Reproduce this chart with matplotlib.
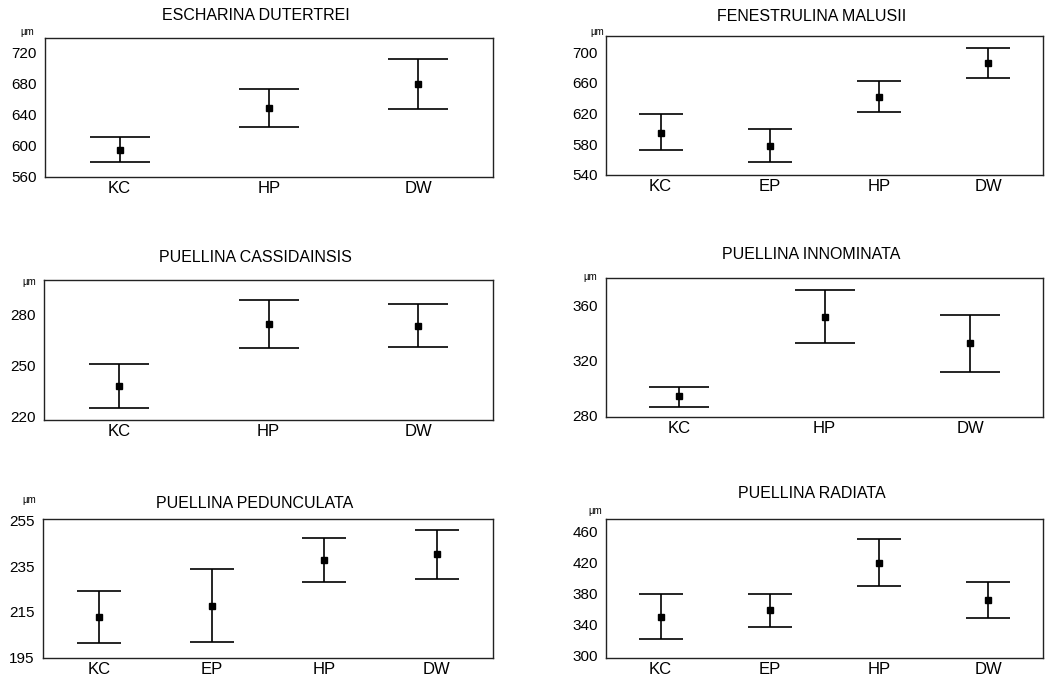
import numpy as np
import matplotlib
matplotlib.use("Agg")
import matplotlib.pyplot as plt

plt.rcParams['font.family'] = ['Liberation Sans', 'DejaVu Sans']

# datos: media, limite superior, limite inferior (um)
titles = ['ESCHARINA DUTERTREI', 'FENESTRULINA MALUSII',
          'PUELLINA CASSIDAINSIS', 'PUELLINA INNOMINATA',
          'PUELLINA PEDUNCULATA', 'PUELLINA RADIATA']

cats_esch = ['KC', 'HP', 'DW']
mean_esch = [595, 649, 680]
up_esch = [612, 673, 712]
lo_esch = [579, 625, 648]

cats_fene = ['KC', 'EP', 'HP', 'DW']
mean_fene = [595, 578, 642, 686]
up_fene = [619, 600, 663, 706]
lo_fene = [572, 557, 622, 666]

cats_cass = ['KC', 'HP', 'DW']
mean_cass = [238, 274, 273]
up_cass = [251, 288, 286]
lo_cass = [225, 260, 261]

cats_inno = ['KC', 'HP', 'DW']
mean_inno = [294, 352, 333]
up_inno = [301, 371, 353]
lo_inno = [286, 333, 312]

cats_pedu = ['KC', 'EP', 'HP', 'DW']
mean_pedu = [212.6, 217.4, 237.8, 240.5]
up_pedu = [224.3, 233.9, 247.5, 251]
lo_pedu = [201.2, 201.6, 228, 229.6]

cats_radi = ['KC', 'EP', 'HP', 'DW']
mean_radi = [350, 359, 419, 372]
up_radi = [379, 380, 450, 395]
lo_radi = [322, 337, 390, 349]

yticks_list = [[560, 600, 640, 680, 720],
               [540, 580, 620, 660, 700],
               [220, 250, 280],
               [280, 320, 360],
               [195, 215, 235, 255],
               [300, 340, 380, 420, 460]]
ylims = [(560, 739), (540, 721), (218, 300), (279, 380), (194.6, 255.8), (297, 476)]

panels = [(cats_esch, mean_esch, up_esch, lo_esch),
          (cats_fene, mean_fene, up_fene, lo_fene),
          (cats_cass, mean_cass, up_cass, lo_cass),
          (cats_inno, mean_inno, up_inno, lo_inno),
          (cats_pedu, mean_pedu, up_pedu, lo_pedu),
          (cats_radi, mean_radi, up_radi, lo_radi)]

W, H = 1046, 681
fig = plt.figure(figsize=(W / 100, H / 100), dpi=100)

# cajas de ejes en pixeles: izquierda, arriba, derecha, abajo
boxes = [(45, 38, 493, 177), (606, 36, 1043, 175),
         (44, 280, 493, 420), (606, 278, 1043, 417),
         (43, 519, 493, 658), (606, 519, 1043, 658)]
# posicion del rotulo "µm" (pixeles)
um_pos = [(20, 32), (590, 32), (22, 282), (583, 277), (22, 500), (588, 511)]
# separacion del titulo sobre la caja
title_pad = [13, 11, 13, 14, 8, 15]

for i, (cats, mean, up, lo) in enumerate(panels):
    l, t, r, b = boxes[i]
    ax = fig.add_axes([l / W, 1 - b / H, (r - l) / W, (b - t) / H])
    x = np.arange(len(cats))
    mean = np.array(mean)
    err = [mean - np.array(lo), np.array(up) - mean]
    cap = 21.5 if len(cats) == 3 else 16
    ax.errorbar(x, mean, yerr=err, fmt='s', color='black', ms=5,
                elinewidth=1.2, capsize=cap, capthick=1.2)
    ax.set_xlim(-0.5, len(cats) - 0.5)
    ax.set_ylim(*ylims[i])
    ax.set_xticks(x)
    ax.set_xticklabels(cats, fontsize=12)
    ax.set_yticks(yticks_list[i])
    ax.tick_params(axis='y', length=0, pad=6, labelsize=11)
    ax.tick_params(axis='x', length=0, pad=3)
    for s in ax.spines.values():
        s.set_linewidth(1.0)
        s.set_color('#222222')
    ax.set_title(titles[i], fontsize=11.5, x=0.47, pad=title_pad[i])
    fig.text(um_pos[i][0] / W, 1 - um_pos[i][1] / H, 'µm', fontsize=7,
             ha='left', va='center')

fig.savefig('out.png', dpi=100)
